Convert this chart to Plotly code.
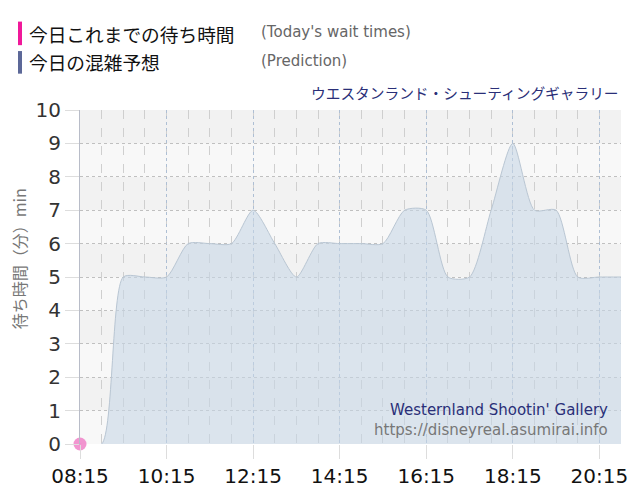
import plotly.graph_objects as go

# ---- data ----
pred_times = ["08:15", "08:45", "09:15", "09:45", "10:15", "10:45", "11:15", "11:45",
              "12:15", "12:45", "13:15", "13:45", "14:15", "14:45", "15:15", "15:45",
              "16:15", "16:45", "17:15", "17:45", "18:15", "18:45", "19:15", "19:45",
              "20:15", "20:45"]
pred_values = [0, 0, 5, 5, 5, 6, 6, 6, 7, 6, 5, 6, 6, 6, 6, 7,
               7, 5, 5, 7, 9, 7, 7, 5, 5, 5]
today_times = ["08:15"]
today_values = [0]
tick_labels = ["08:15", "10:15", "12:15", "14:15", "16:15", "18:15", "20:15"]

DAY = "2024-01-01 "
px = [DAY + t for t in pred_times]
tx = [DAY + t for t in today_times]
ticks = [DAY + t for t in tick_labels]

W, H = 640, 500
L, R, T, B = 80, 19, 110, 50
pw, ph = W - L - R, H - T - B

def xp(x):
    return (x - L) / pw

def yp(y):
    return (H - B - y) / ph

fig = go.Figure()

fig.add_trace(go.Scatter(
    x=px, y=pred_values, mode="lines", line=dict(shape="spline", smoothing=0.7,
                                                  color="#b9c6d3", width=1),
    fill="tozeroy", fillcolor="rgba(198,214,230,0.58)", hoverinfo="skip",
    showlegend=False))

fig.add_trace(go.Scatter(
    x=tx, y=today_values, mode="markers",
    marker=dict(size=13, color="rgba(240,130,200,0.85)"), cliponaxis=False,
    showlegend=False))

shapes = []
# alternating background bands
for i in range(10):
    shapes.append(dict(type="rect", xref="paper", yref="y", x0=0, x1=1, y0=i, y1=i + 1,
                       fillcolor="#f2f2f2" if i % 2 == 1 else "#f8f8f8",
                       line=dict(width=0), layer="below"))
# legend bars
shapes.append(dict(type="rect", xref="paper", yref="paper", x0=xp(18), x1=xp(22),
                   y0=yp(44), y1=yp(20), fillcolor="#f0199a", line=dict(width=0)))
shapes.append(dict(type="rect", xref="paper", yref="paper", x0=xp(18), x1=xp(22),
                   y0=yp(73), y1=yp(50), fillcolor="#5c6898", line=dict(width=0)))

jp = "Noto Sans CJK JP"
ann = [
    dict(x=xp(27), y=yp(32), text="今日これまでの待ち時間", font=dict(family=jp, size=18.7, color="#111"),
         xanchor="left", yanchor="middle"),
    dict(x=xp(259), y=yp(31), text="(Today's wait times)", font=dict(family="DejaVu Sans", size=15, color="#666"),
         xanchor="left", yanchor="middle"),
    dict(x=xp(27), y=yp(61), text="今日の混雑予想", font=dict(family=jp, size=18.7, color="#111"),
         xanchor="left", yanchor="middle"),
    dict(x=xp(259), y=yp(60), text="(Prediction)", font=dict(family="DejaVu Sans", size=15, color="#666"),
         xanchor="left", yanchor="middle"),
    dict(x=xp(621), y=yp(92), text="ウエスタンランド・シューティングギャラリー",
         font=dict(family=jp, size=14.7, color="#2a2f78"), xanchor="right", yanchor="middle"),
    dict(x=xp(610), y=yp(415), text="Westernland Shootin' Gallery",
         font=dict(family="DejaVu Sans", size=15, color="#2a2f78"), xanchor="right", yanchor="middle"),
    dict(x=xp(610), y=yp(436), text="https://disneyreal.asumirai.info",
         font=dict(family="DejaVu Sans", size=15, color="#777"), xanchor="right", yanchor="middle"),
    dict(x=xp(19), y=yp(262), text="待ち時間（分）min", textangle=-90,
         font=dict(family=jp, size=16, color="#777"), xanchor="center", yanchor="middle"),
]
for a in ann:
    a.update(xref="paper", yref="paper", showarrow=False)

fig.update_layout(
    width=W, height=H, margin=dict(l=L, r=R, t=T, b=B),
    paper_bgcolor="white", plot_bgcolor="white",
    shapes=shapes, annotations=ann, showlegend=False,
    xaxis=dict(type="date", range=[DAY + "08:15", DAY + "20:45"],
               tickvals=ticks, ticktext=tick_labels,
               tickfont=dict(family="DejaVu Sans", size=20, color="#111"),
               ticks="outside", ticklen=14, tickcolor="#dddddd",
               showgrid=True, gridcolor="#aebfd4", griddash="dot", gridwidth=1,
               minor=dict(dtick=30 * 60 * 1000, tick0=DAY + "08:15", showgrid=True,
                          gridcolor="#cfcfcf", griddash="dash", gridwidth=1),
               showline=False, zeroline=False, fixedrange=True),
    yaxis=dict(range=[0, 10], dtick=1, tick0=0,
               tickfont=dict(family="DejaVu Sans", size=20, color="#333"),
               ticks="outside", ticklen=14, tickcolor="#dddddd",
               showgrid=True, gridcolor="#c0c0c0", griddash="dot", gridwidth=1,
               showline=True, linecolor="#b8bcc8", linewidth=1,
               zeroline=False, fixedrange=True),
)

fig.write_html("out.html")
